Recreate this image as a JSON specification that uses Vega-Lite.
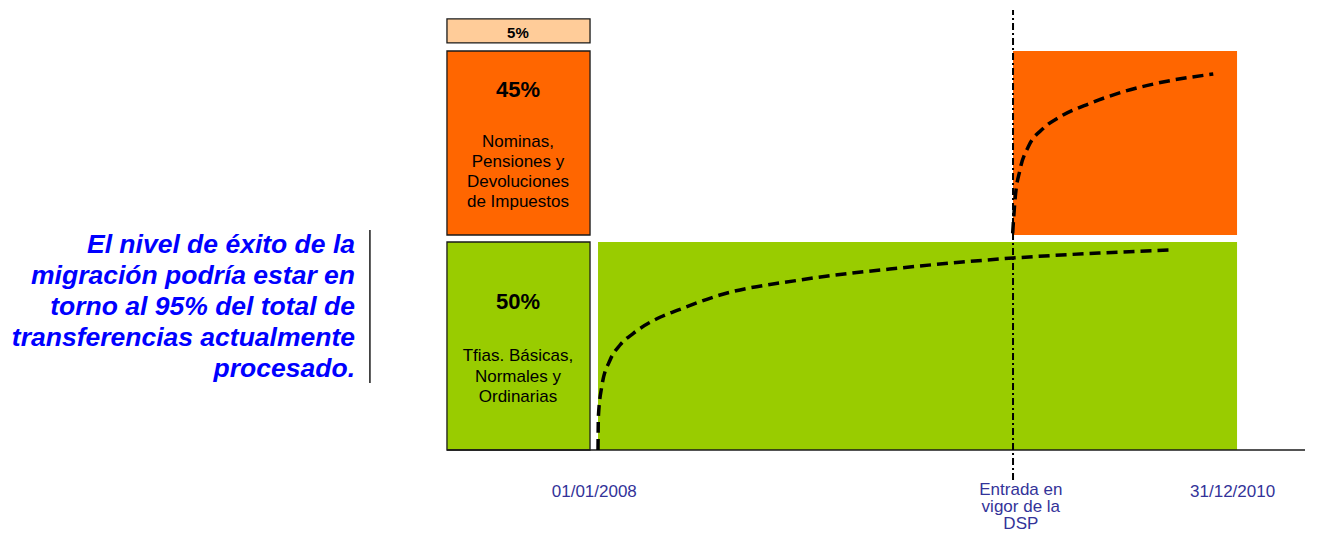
{
  "$schema": "https://vega.github.io/schema/vega-lite/v6.json",
  "width": 1321,
  "height": 535,
  "autosize": {"type": "none"},
  "padding": 0,
  "background": "white",
  "config": {"view": {"stroke": null}},
  "datasets": {
    "cajas": [
      {"x": -8.51, "x2": -0.45, "y": 97.84, "y2": 103.61, "grupo": "Otras"},
      {"x": -8.51, "x2": -0.45, "y": 51.68, "y2": 95.91, "grupo": "Nominas"},
      {"x": -8.51, "x2": -0.45, "y": 0, "y2": 50, "grupo": "Tfias"}
    ],
    "migracion": [
      {"x": 0, "x2": 36, "y": 0, "y2": 50, "grupo": "Tfias"},
      {"x": 23.38, "x2": 36, "y": 51.68, "y2": 95.91, "grupo": "Nominas"}
    ],
    "curvas": [
      {"serie": "Tfias", "mes": 0.0, "nivel": 0.0},
      {"serie": "Tfias", "mes": 0.02, "nivel": 8.0},
      {"serie": "Tfias", "mes": 0.21, "nivel": 15.22},
      {"serie": "Tfias", "mes": 0.68, "nivel": 21.63},
      {"serie": "Tfias", "mes": 1.24, "nivel": 25.24},
      {"serie": "Tfias", "mes": 1.99, "nivel": 28.05},
      {"serie": "Tfias", "mes": 3.49, "nivel": 31.9},
      {"serie": "Tfias", "mes": 4.62, "nivel": 33.82},
      {"serie": "Tfias", "mes": 6.87, "nivel": 37.26},
      {"serie": "Tfias", "mes": 11.38, "nivel": 40.87},
      {"serie": "Tfias", "mes": 17.01, "nivel": 43.75},
      {"serie": "Tfias", "mes": 23.38, "nivel": 46.15},
      {"serie": "Tfias", "mes": 28.28, "nivel": 47.36},
      {"serie": "Tfias", "mes": 32.34, "nivel": 48.08},
      {"serie": "Nominas", "mes": 23.36, "nivel": 52.09},
      {"serie": "Nominas", "mes": 23.49, "nivel": 60.1},
      {"serie": "Nominas", "mes": 23.77, "nivel": 67.31},
      {"serie": "Nominas", "mes": 24.24, "nivel": 72.91},
      {"serie": "Nominas", "mes": 25.09, "nivel": 77.33},
      {"serie": "Nominas", "mes": 26.03, "nivel": 80.12},
      {"serie": "Nominas", "mes": 27.72, "nivel": 83.34},
      {"serie": "Nominas", "mes": 29.6, "nivel": 86.13},
      {"serie": "Nominas", "mes": 31.48, "nivel": 88.15},
      {"serie": "Nominas", "mes": 34.66, "nivel": 90.38}
    ],
    "titulos": [
      {"x": -4.51, "y": 98.97, "texto": "5%", "tipo": "pequeno"},
      {"x": -4.51, "y": 84.78, "texto": "45%", "tipo": "grande"},
      {"x": -4.51, "y": 33.89, "texto": "50%", "tipo": "grande"}
    ],
    "descripciones": [
      {"x": -4.51, "y": 72.91, "texto": "Nominas,"},
      {"x": -4.51, "y": 68.1, "texto": "Pensiones y"},
      {"x": -4.51, "y": 63.29, "texto": "Devoluciones"},
      {"x": -4.51, "y": 58.49, "texto": "de Impuestos"},
      {"x": -4.51, "y": 21.39, "texto": "Tfias. Básicas,"},
      {"x": -4.51, "y": 16.42, "texto": "Normales y"},
      {"x": -4.51, "y": 11.61, "texto": "Ordinarias"}
    ],
    "mensaje": [
      {"x": -13.69, "y": 47.36, "texto": "El nivel de éxito de la"},
      {"x": -13.69, "y": 39.9, "texto": "migración podría estar en"},
      {"x": -13.69, "y": 32.45, "texto": "torno al 95% del total de"},
      {"x": -13.69, "y": 25.0, "texto": "transferencias actualmente"},
      {"x": -13.69, "y": 17.55, "texto": "procesado."}
    ],
    "fechas": [
      {"x": -0.21, "y": -11.18, "texto": "01/01/2008"},
      {"x": 23.82, "y": -10.82, "texto": "Entrada en"},
      {"x": 23.82, "y": -14.9, "texto": "vigor de la"},
      {"x": 23.82, "y": -18.99, "texto": "DSP"},
      {"x": 35.75, "y": -11.18, "texto": "31/12/2010"}
    ],
    "dsp": [{"x": 23.38, "y": -7.21, "y2": 105.77}],
    "base": [{"x": -8.51, "x2": 39.83, "y": 0}],
    "barra": [{"x": -12.85, "y": 16.11, "y2": 52.88}]
  },
  "layer": [
    {
      "data": {"name": "migracion"},
      "mark": {"type": "rect"},
      "encoding": {
        "x": {"field": "x", "type": "quantitative", "axis": null, "scale": {"domain": [-33.69, 40.73], "nice": false, "zero": false}},
        "x2": {"field": "x2"},
        "y": {"field": "y", "type": "quantitative", "axis": null, "scale": {"domain": [-20.43, 108.17], "nice": false, "zero": false}},
        "y2": {"field": "y2"},
        "color": {"field": "grupo", "type": "nominal", "legend": null, "scale": {"domain": ["Otras", "Nominas", "Tfias"], "range": ["#FFCC99", "#FF6600", "#99CC00"]}}
      }
    },
    {
      "data": {"name": "cajas"},
      "mark": {"type": "rect", "stroke": "#1a1a1a", "strokeWidth": 1.3},
      "encoding": {
        "x": {"field": "x", "type": "quantitative"},
        "x2": {"field": "x2"},
        "y": {"field": "y", "type": "quantitative"},
        "y2": {"field": "y2"},
        "color": {"field": "grupo", "type": "nominal", "legend": null}
      }
    },
    {
      "data": {"name": "base"},
      "mark": {"type": "rule", "color": "#1a1a1a", "strokeWidth": 1.5},
      "encoding": {
        "x": {"field": "x", "type": "quantitative"},
        "x2": {"field": "x2"},
        "y": {"field": "y", "type": "quantitative"}
      }
    },
    {
      "data": {"name": "barra"},
      "mark": {"type": "rule", "color": "#1a1a1a", "strokeWidth": 1.5},
      "encoding": {
        "x": {"field": "x", "type": "quantitative"},
        "y": {"field": "y", "type": "quantitative"},
        "y2": {"field": "y2"}
      }
    },
    {
      "data": {"name": "curvas"},
      "mark": {"type": "line", "color": "black", "strokeWidth": 3.5, "strokeDash": [11, 6], "interpolate": "monotone"},
      "encoding": {
        "x": {"field": "mes", "type": "quantitative"},
        "y": {"field": "nivel", "type": "quantitative"},
        "detail": {"field": "serie"}
      }
    },
    {
      "data": {"name": "dsp"},
      "mark": {"type": "rule", "color": "black", "strokeWidth": 2, "strokeDash": [7, 3, 2, 3]},
      "encoding": {
        "x": {"field": "x", "type": "quantitative"},
        "y": {"field": "y", "type": "quantitative"},
        "y2": {"field": "y2"}
      }
    },
    {
      "data": {"name": "titulos"},
      "transform": [{"filter": "datum.tipo == 'grande'"}],
      "mark": {"type": "text", "font": "Liberation Sans", "fontWeight": "bold", "fontSize": 22, "align": "center", "baseline": "alphabetic", "color": "black"},
      "encoding": {
        "x": {"field": "x", "type": "quantitative"},
        "y": {"field": "y", "type": "quantitative"},
        "text": {"field": "texto"}
      }
    },
    {
      "data": {"name": "titulos"},
      "transform": [{"filter": "datum.tipo == 'pequeno'"}],
      "mark": {"type": "text", "font": "Liberation Sans", "fontWeight": "bold", "fontSize": 15, "align": "center", "baseline": "alphabetic", "color": "black"},
      "encoding": {
        "x": {"field": "x", "type": "quantitative"},
        "y": {"field": "y", "type": "quantitative"},
        "text": {"field": "texto"}
      }
    },
    {
      "data": {"name": "descripciones"},
      "mark": {"type": "text", "font": "Liberation Sans", "fontSize": 17, "align": "center", "baseline": "alphabetic", "color": "black"},
      "encoding": {
        "x": {"field": "x", "type": "quantitative"},
        "y": {"field": "y", "type": "quantitative"},
        "text": {"field": "texto"}
      }
    },
    {
      "data": {"name": "mensaje"},
      "mark": {"type": "text", "font": "Liberation Sans", "fontSize": 26.5, "fontWeight": "bold", "fontStyle": "italic", "align": "right", "baseline": "alphabetic", "color": "#0000FF"},
      "encoding": {
        "x": {"field": "x", "type": "quantitative"},
        "y": {"field": "y", "type": "quantitative"},
        "text": {"field": "texto"}
      }
    },
    {
      "data": {"name": "fechas"},
      "mark": {"type": "text", "font": "Liberation Sans", "fontSize": 17, "align": "center", "baseline": "alphabetic", "color": "#333399"},
      "encoding": {
        "x": {"field": "x", "type": "quantitative"},
        "y": {"field": "y", "type": "quantitative"},
        "text": {"field": "texto"}
      }
    }
  ]
}
